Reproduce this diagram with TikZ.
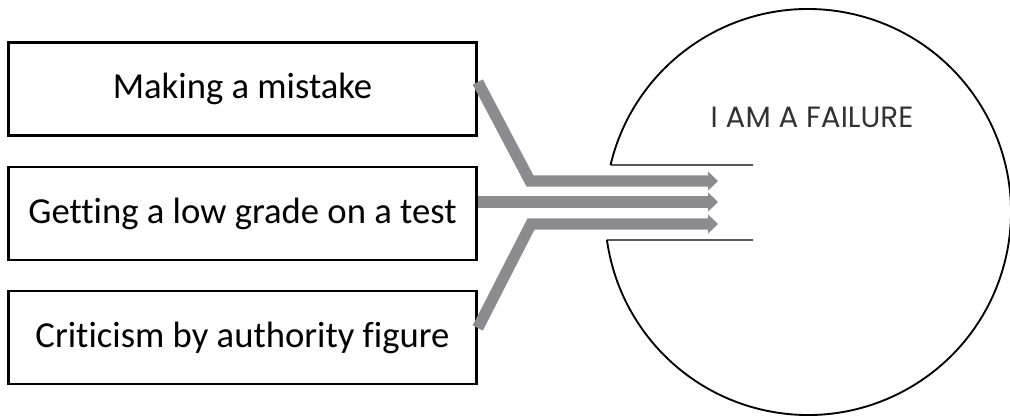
\documentclass[tikz,border=0pt]{standalone}
\usepackage{fontspec}
\setmainfont{Carlito}[Ligatures=NoCommon]
\newfontfamily\headfont{Poppins}
\usetikzlibrary{positioning, arrows.meta, calc}
\definecolor{arrowgray}{HTML}{8C8C90}
\definecolor{headtext}{HTML}{333333}

\begin{document}
\begin{tikzpicture}[
    x=0.75pt, y=-0.75pt,
    causebox/.style={draw=black, line width=1.9pt, rectangle, minimum width=351pt, minimum height=70pt, inner sep=0pt, font=\fontsize{27.5}{32}\selectfont},
    feed/.style={draw=arrowgray, line width=8.5pt, line join=miter, -{Triangle[length=7.5pt, width=14pt]}},
    rim/.style={draw=black, line width=1.4pt},
    gap/.style={draw=black, line width=0.9pt},
]
\useasboundingbox (0,0) rectangle (1010,419);

% the three triggers
\node[causebox] (mistake) at (242.5, 89)    {Making a mistake};
\node[causebox] (grade)   at (242.5, 213.5) {Getting a low grade on a test};
\node[causebox] (critic)  at (242.5, 337.5) {Criticism by authority figure};

% the belief circle with its opening
\coordinate (core) at (808, 212);
\coordinate (rimtop) at ($(core)+(-166.6:203)$);
\coordinate (rimbot) at ($(core)+(172.1:203)$);
\draw[rim] (rimtop) arc[start angle=-166.6, end angle=172.1, radius=203];
\draw[gap] (rimtop) -- (753, 165);
\draw[gap] (rimbot) -- (753, 240);
\node[font=\headfont\fontsize{22}{26}\selectfont, text=headtext] (belief) at (812, 117) {I AM A FAILURE};

% arrows into the opening
\coordinate (bendA) at (530, 181);
\coordinate (bendC) at (531, 224);
\coordinate (tipA) at (718, 181);
\coordinate (tipB) at (718, 202);
\coordinate (tipC) at (718, 224);
\draw[feed] ($(mistake.east)+(0,-7)$) -- (bendA) -- (tipA);
\draw[feed] ($(grade.east)+(0,-11.5)$) -- (tipB);
\draw[feed] ($(critic.east)+(0,-9.5)$) -- (bendC) -- (tipC);
\end{tikzpicture}
\end{document}
